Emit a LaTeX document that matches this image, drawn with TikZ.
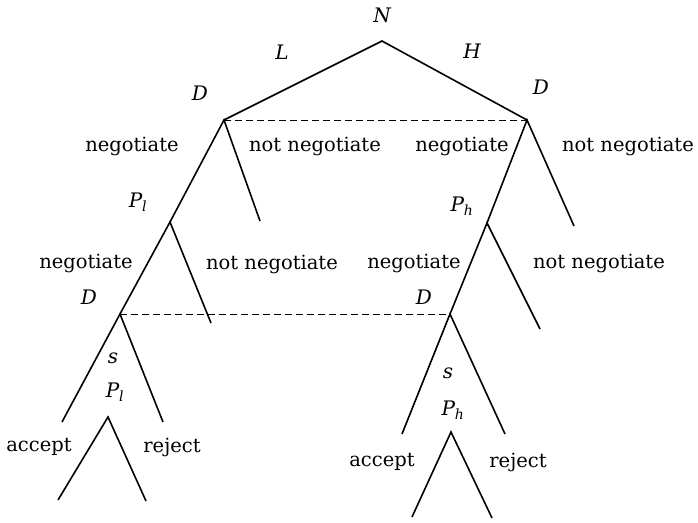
\documentclass[tikz,border=0pt]{standalone}
\usepackage{fontspec}
\setmainfont{DejaVu Serif}
\usetikzlibrary{positioning}

\begin{document}
\begin{tikzpicture}[x=1pt, y=-1pt]

\tikzset{
  branch/.style={line width=1.6pt},
  infoset/.style={line width=1pt, dash pattern=on 7pt off 4pt},
  move/.style={inner sep=1pt, font=\fontsize{19.5}{21}\selectfont},
  player/.style={inner sep=1pt, font=\fontsize{20}{22}\selectfont\itshape}
}

\useasboundingbox (0,0) rectangle (698,522);

% ==========================
% Decision points and branch ends
% ==========================
\coordinate (root) at (382,41);
\coordinate (dL) at (224,120);
\coordinate (dH) at (527,120);
\coordinate (pL) at (170,222);
\coordinate (pH) at (487,223);
\coordinate (nnL) at (260,221);
\coordinate (nnH) at (574,226);
\coordinate (dL2) at (120,314);
\coordinate (dH2) at (450,314);
\coordinate (pnL) at (211,323);
\coordinate (pnH) at (540,329);
\coordinate (sLa) at (62,422);
\coordinate (sLb) at (163,422);
\coordinate (sHa) at (402,434);
\coordinate (sHb) at (505,434);
\coordinate (rL) at (108,417);
\coordinate (accL) at (58,500);
\coordinate (rejL) at (146,501);
\coordinate (rH) at (451,432);
\coordinate (accH) at (412,517);
\coordinate (rejH) at (492,518);

% Branches
\draw[branch] (dL) -- (root) -- (dH);
\draw[branch] (pL) -- (dL) -- (nnL);
\draw[branch] (pH) -- (dH) -- (nnH);
\draw[branch] (dL2) -- (pL) -- (pnL);
\draw[branch] (dH2) -- (pH) -- (pnH);
\draw[branch] (sLa) -- (dL2) -- (sLb);
\draw[branch] (sHa) -- (dH2) -- (sHb);
\draw[branch] (accL) -- (rL) -- (rejL);
\draw[branch] (accH) -- (rH) -- (rejH);

% Information sets
\draw[infoset] (dL) -- (dH);
\draw[infoset] (dL2) -- (dH2);

% ==========================
% Players and moves
% ==========================
\node[player] (nN) at (382,15) {N};
\node[player] (mL) at (282,52) {L};
\node[player] (mH) at (472,51) {H};
\node[player] (nDL) at (200,93) {D};
\node[player] (nDH) at (541,87) {D};
\node[move] (negL) at (132,146) {negotiate};
\node[move] (notL) at (315,146) {not negotiate};
\node[move] (negH) at (462,146) {negotiate};
\node[move] (notH) at (628,146) {not negotiate};
\node[player] (nPL) at (138,202) {P\textsubscript{\itshape l}};
\node[player] (nPH) at (462,206) {P\textsubscript{\itshape h}};
\node[move] (negPL) at (86,263) {negotiate};
\node[move] (notPL) at (272,264) {not negotiate};
\node[move] (negPH) at (414,263) {negotiate};
\node[move] (notPH) at (599,263) {not negotiate};
\node[player] (nDL2) at (89,297) {D};
\node[player] (nDH2) at (424,297) {D};
\node[player] (sL) at (113,358) {s};
\node[player] (nPL2) at (115,392) {P\textsubscript{\itshape l}};
\node[player] (sH) at (448,373) {s};
\node[player] (nPH2) at (453,410) {P\textsubscript{\itshape h}};
\node[move] (accLt) at (39,447) {accept};
\node[move] (rejLt) at (172,447) {reject};
\node[move] (accHt) at (382,462) {accept};
\node[move] (rejHt) at (518,462) {reject};

\end{tikzpicture}
\end{document}
